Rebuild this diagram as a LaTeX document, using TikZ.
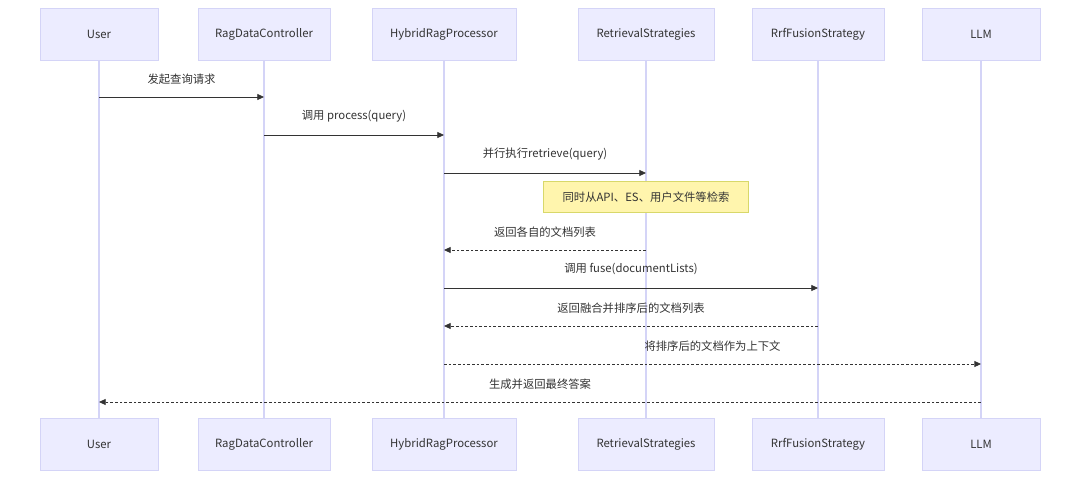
\documentclass[tikz,border=0pt]{standalone}
\usepackage{fontspec}
\setmainfont{Noto Sans CJK SC}
\usetikzlibrary{arrows.meta}
\definecolor{actfill}{HTML}{ECECFF}
\definecolor{actline}{HTML}{D4D4F7}
\definecolor{notefill}{HTML}{FFF5AD}
\definecolor{noteline}{HTML}{D8D86A}
\definecolor{msg}{HTML}{333333}
\tikzset{
  actor/.style={draw=actline,fill=actfill,minimum height=39pt,inner sep=0pt,
    font=\fontsize{8.5}{10}\selectfont,text=msg},
  life/.style={draw=actline,line width=0.8pt},
  call/.style={draw=msg,line width=0.6pt,-{Triangle[length=5pt,width=4.5pt]}},
  reply/.style={call,dash pattern=on 2pt off 1.5pt},
  lbl/.style={font=\fontsize{8.5}{10}\selectfont,text=msg,above=6pt},
  memo/.style={draw=noteline,fill=notefill,font=\fontsize{8.5}{10}\selectfont,text=msg,
    minimum width=154pt,minimum height=23pt}
}
\begin{document}
\begin{tikzpicture}[x=0.75pt,y=-0.75pt]
    \useasboundingbox (0,0) rectangle (1080,478);
    % actors: name / x / width / label
    \foreach \n/\x/\w/\t in {U/99/118/User, C/264/132/RagDataController,
        H/444/144/HybridRagProcessor, R/646/136/RetrievalStrategies,
        F/818/132/RrfFusionStrategy, L/981/118/LLM}{
      \coordinate (\n) at (\x,0);
      \draw[life] (\x,60) -- (\x,418);
      \node[actor,minimum width=\w*0.75pt] (\n top) at (\x,34) {\t};
      \node[actor,minimum width=\w*0.75pt] (\n bot) at (\x,444) {\t};
    }
    % messages
    \draw[call] (U |- 0,97) -- node[lbl] {发起查询请求} (C |- 0,97);
    \draw[call] (C |- 0,135) -- node[lbl] {调用 process(query)} (H |- 0,135);
    \draw[call] (H |- 0,173) -- node[lbl] {并行执行retrieve(query)} (R |- 0,173);
    \node[memo] (note) at (646,197) {同时从API、ES、用户文件等检索};
    \draw[reply] (R |- 0,250) -- node[lbl] {返回各自的文档列表} (H |- 0,250);
    \draw[call] (H |- 0,288) -- node[lbl] {调用 fuse(documentLists)} (F |- 0,288);
    \draw[reply] (F |- 0,326) -- node[lbl] {返回融合并排序后的文档列表} (H |- 0,326);
    \draw[reply] (H |- 0,364) -- node[lbl] {将排序后的文档作为上下文} (L |- 0,364);
    \draw[reply] (L |- 0,402) -- node[lbl] {生成并返回最终答案} (U |- 0,402);
\end{tikzpicture}
\end{document}
